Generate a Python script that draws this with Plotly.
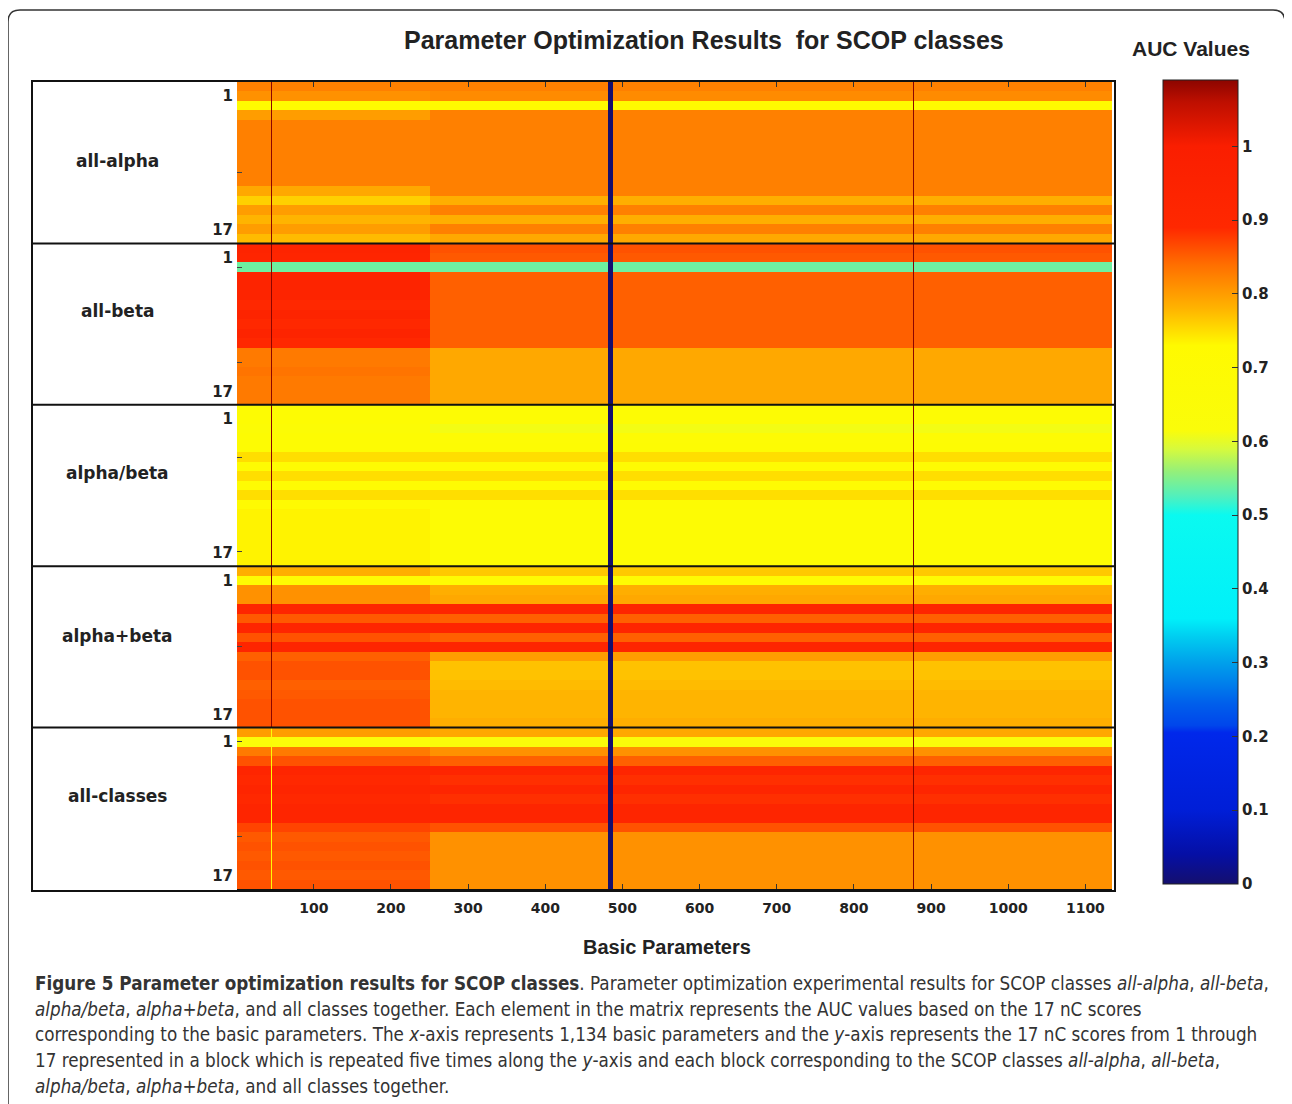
import plotly.graph_objects as go

# ---------------- data ----------------
blocks = ["all-alpha", "all-beta", "alpha/beta", "alpha+beta", "all-classes"]
n_scores = 17
x_tick_values = [100, 200, 300, 400, 500, 600, 700, 800, 900, 1000, 1100]
cbar_tick_values = [0, 0.1, 0.2, 0.3, 0.4, 0.5, 0.6, 0.7, 0.8, 0.9, 1.0]
cbar_tick_text = ["0", "0.1", "0.2", "0.3", "0.4", "0.5", "0.6", "0.7", "0.8", "0.9", "1"]

# AUC per nC score (rows 1..17) for parameters 1-250 ("left") and 251-1134 ("right")
left_all_alpha = [0.825, 0.81, 0.72, 0.80, 0.825, 0.825, 0.825, 0.825, 0.825, 0.825, 0.825, 0.79, 0.76, 0.80, 0.78, 0.80, 0.775]
right_all_alpha = [0.825, 0.815, 0.72, 0.825, 0.825, 0.825, 0.825, 0.825, 0.825, 0.825, 0.825, 0.825, 0.785, 0.825, 0.785, 0.825, 0.79]
left_all_beta = [0.93, 0.92, 0.54, 0.93, 0.93, 0.93, 0.895, 0.93, 0.895, 0.93, 0.89, 0.83, 0.83, 0.835, 0.83, 0.83, 0.83]
right_all_beta = [0.86, 0.855, 0.54, 0.85, 0.85, 0.85, 0.85, 0.85, 0.85, 0.85, 0.85, 0.79, 0.79, 0.79, 0.79, 0.79, 0.79]
left_alpha_beta = [0.69, 0.69, 0.67, 0.69, 0.69, 0.75, 0.70, 0.75, 0.70, 0.75, 0.705, 0.735, 0.735, 0.735, 0.735, 0.735, 0.735]
right_alpha_beta = [0.68, 0.68, 0.61, 0.68, 0.69, 0.75, 0.70, 0.75, 0.70, 0.75, 0.69, 0.685, 0.685, 0.685, 0.685, 0.685, 0.685]
left_alpha_plus_beta = [0.785, 0.70, 0.81, 0.81, 0.92, 0.855, 0.92, 0.86, 0.92, 0.85, 0.86, 0.86, 0.85, 0.855, 0.86, 0.86, 0.86]
right_alpha_plus_beta = [0.765, 0.70, 0.785, 0.79, 0.92, 0.85, 0.92, 0.85, 0.92, 0.80, 0.77, 0.77, 0.775, 0.78, 0.78, 0.78, 0.785]
left_all_classes = [0.80, 0.63, 0.83, 0.86, 0.92, 0.89, 0.92, 0.89, 0.92, 0.92, 0.87, 0.855, 0.86, 0.855, 0.86, 0.855, 0.86]
right_all_classes = [0.79, 0.62, 0.81, 0.85, 0.92, 0.885, 0.92, 0.885, 0.92, 0.92, 0.86, 0.81, 0.81, 0.81, 0.81, 0.81, 0.81]

# single parameters that stand out (one value per SCOP block)
param_45_auc = [1.09, 1.09, 1.09, 1.09, 0.66]
param_484_auc = [0.0, 0.0, 0.0, 0.0, 0.0]
param_877_auc = [1.09, 1.09, 1.09, 1.09, 1.09]

# parameter bins (edges) and which series fills each bin
param_edges = [0.5, 45.0, 46.5, 250.5, 481.5, 487.5, 876.0, 877.5, 1134.5]
bin_source = ["left", "p45", "left", "right", "p484", "right", "p877", "right"]

left_series = [left_all_alpha, left_all_beta, left_alpha_beta, left_alpha_plus_beta, left_all_classes]
right_series = [right_all_alpha, right_all_beta, right_alpha_beta, right_alpha_plus_beta, right_all_classes]

# ---------------- build matrix ----------------
z = []
for b in range(len(blocks)):
    for r in range(n_scores):
        row = []
        for src in bin_source:
            if src == "left":
                row.append(left_series[b][r])
            elif src == "right":
                row.append(right_series[b][r])
            elif src == "p45":
                row.append(param_45_auc[b])
            elif src == "p484":
                row.append(param_484_auc[b])
            else:
                row.append(param_877_auc[b])
        z.append(row)
n_rows = len(z)
row_ids = list(range(1, n_rows + 1))

zmax = 1.09
stops = [
    (0.00, "rgb(20,15,110)"), (0.04, "rgb(5,15,165)"), (0.10, "rgb(0,30,215)"),
    (0.205, "rgb(0,40,235)"), (0.215, "rgb(0,70,235)"), (0.245, "rgb(0,95,235)"),
    (0.27, "rgb(0,125,235)"), (0.30, "rgb(0,160,235)"), (0.335, "rgb(0,205,240)"),
    (0.36, "rgb(0,240,250)"), (0.50, "rgb(10,250,240)"), (0.525, "rgb(80,240,190)"),
    (0.56, "rgb(150,240,120)"), (0.59, "rgb(215,250,60)"), (0.615, "rgb(250,252,10)"),
    (0.73, "rgb(255,250,0)"), (0.755, "rgb(255,215,0)"), (0.78, "rgb(255,180,0)"),
    (0.81, "rgb(255,145,0)"), (0.84, "rgb(255,110,0)"), (0.865, "rgb(255,75,0)"),
    (0.89, "rgb(255,40,0)"), (1.00, "rgb(250,30,0)"), (1.02, "rgb(230,25,0)"),
    (1.06, "rgb(190,15,0)"), (1.09, "rgb(140,5,0)"),
]
colorscale = [[v / zmax, c] for v, c in stops]

# ---------------- layout geometry (reference pixels) ----------------
PAGE_OFF = 8                     # body margin of the page
W, H = 1292 - PAGE_OFF, 1104 - PAGE_OFF
L, R, T, B = 237, 1112, 82, 889  # plot area in reference pixels
pw, ph = R - L, B - T


def px_x(p):
    return (p - L) / pw


def px_y(p):
    return (B - p) / ph


fig = go.Figure()
fig.add_trace(go.Heatmap(
    z=z, x=param_edges, y=row_ids,
    colorscale=colorscale, zmin=0, zmax=zmax,
    hoverinfo="skip",
    colorbar=dict(
        x=px_x(1163), xanchor="left", xpad=0, ypad=0,
        y=px_y(482), yanchor="middle",
        thickness=75, thicknessmode="pixels",
        len=804, lenmode="pixels",
        outlinecolor="#222", outlinewidth=1,
        tickvals=cbar_tick_values, ticktext=cbar_tick_text,
        ticks="inside", ticklen=6, tickcolor="#333",
        tickfont=dict(family="DejaVu Sans", size=15, color="#222", weight="bold"),
    ),
))

# y tick labels "1" and "17" for each block
ytv, ytt = [], []
for b in range(len(blocks)):
    off = b * n_scores
    ytv += [off + 2.0, off + 16.1]
    ytt += ["1", "17"]

fig.update_xaxes(
    range=[0.5, 1134.5], tickvals=x_tick_values,
    ticks="inside", ticklen=5, tickcolor="#333", mirror="ticks",
    showline=True, linecolor="#111", linewidth=1,
    showgrid=False, zeroline=False, ticklabelstandoff=6,
    tickfont=dict(family="DejaVu Sans", size=14, color="#222", weight="bold"),
)
fig.update_yaxes(
    range=[n_rows + 0.5, 0.5], tickvals=ytv, ticktext=ytt, ticks="",
    showgrid=False, zeroline=False, showline=False,
    tickfont=dict(family="DejaVu Sans", size=15, color="#222", weight="bold"),
    ticklabelstandoff=3,
    minor=dict(tickmode="linear", tick0=0, dtick=10, ticks="inside", ticklen=5, tickcolor="#444"),
)

shapes = []
# outer rounded frame
fx0, fx1 = px_x(8), px_x(1285)
fy1, fyb = px_y(10), px_y(1112)
rx, ry = 12 / pw, 12 / ph
shapes.append(dict(
    type="path", xref="paper", yref="paper",
    path=(f"M {fx0},{fyb} L {fx0},{fy1 - ry} Q {fx0},{fy1} {fx0 + rx},{fy1} "
          f"L {fx1 - rx},{fy1} Q {fx1},{fy1} {fx1},{fy1 - ry} L {fx1},{fyb}"),
    line=dict(color="#333", width=1.5),
))
# box around label column + matrix
shapes.append(dict(type="rect", xref="paper", yref="paper",
                   x0=px_x(32), x1=px_x(1115), y0=px_y(891), y1=px_y(81),
                   line=dict(color="#111", width=2)))
# block separators
for b in range(1, len(blocks)):
    yv = b * n_scores + 0.5
    shapes.append(dict(type="line", xref="paper", yref="y",
                       x0=px_x(32), x1=px_x(1115), y0=yv, y1=yv,
                       line=dict(color="#111", width=2)))

annotations = []
label_rows = [8.8, 7.6, 7.7, 7.9, 7.7]
for b, name in enumerate(blocks):
    annotations.append(dict(
        text=name, xref="paper", yref="y", x=px_x(118), y=b * n_scores + label_rows[b],
        xanchor="center", yanchor="middle", showarrow=False,
        font=dict(family="DejaVu Sans", size=17, color="#222", weight="bold"),
    ))
annotations.append(dict(
    text="Parameter Optimization Results\u00a0 for SCOP classes",
    xref="paper", yref="paper", x=px_x(704), y=px_y(40),
    xanchor="center", yanchor="middle", showarrow=False,
    font=dict(family="Liberation Sans", size=25, color="#222", weight="bold"),
))
annotations.append(dict(
    text="AUC Values", xref="paper", yref="paper", x=px_x(1191), y=px_y(49),
    xanchor="center", yanchor="middle", showarrow=False,
    font=dict(family="Liberation Sans", size=21, color="#222", weight="bold"),
))
annotations.append(dict(
    text="Basic Parameters", xref="paper", yref="paper", x=px_x(667), y=px_y(947),
    xanchor="center", yanchor="middle", showarrow=False,
    font=dict(family="Liberation Sans", size=20, color="#222", weight="bold"),
))

caption_lines = [
    "<b>Figure 5 Parameter optimization results for SCOP classes</b>. Parameter optimization experimental results for SCOP classes <i>all-alpha</i>, <i>all-beta</i>,",
    "<i>alpha/beta</i>, <i>alpha+beta</i>, and all classes together. Each element in the matrix represents the AUC values based on the 17 nC scores",
    "corresponding to the basic parameters. The <i>x</i>-axis represents 1,134 basic parameters and the <i>y</i>-axis represents the 17 nC scores from 1 through",
    "17 represented in a block which is repeated five times along the <i>y</i>-axis and each block corresponding to the SCOP classes <i>all-alpha</i>, <i>all-beta</i>,",
    "<i>alpha/beta</i>, <i>alpha+beta</i>, and all classes together.",
]
caption_y = [983, 1009, 1034, 1060, 1086]
for txt, yp in zip(caption_lines, caption_y):
    annotations.append(dict(
        text=txt, xref="paper", yref="paper", x=px_x(33), y=px_y(yp),
        xanchor="left", yanchor="middle", showarrow=False, align="left",
        font=dict(family="Liberation Sans Narrow, DejaVu Sans Condensed, Open Sans", size=18.7, color="#333"),
    ))

fig.update_layout(
    width=W, height=H,
    margin=dict(l=L - PAGE_OFF, r=W - (R - PAGE_OFF), t=T - PAGE_OFF, b=H - (B - PAGE_OFF), pad=0),
    paper_bgcolor="white", plot_bgcolor="white",
    shapes=shapes, annotations=annotations, showlegend=False,
)

fig.write_html("out.html")
